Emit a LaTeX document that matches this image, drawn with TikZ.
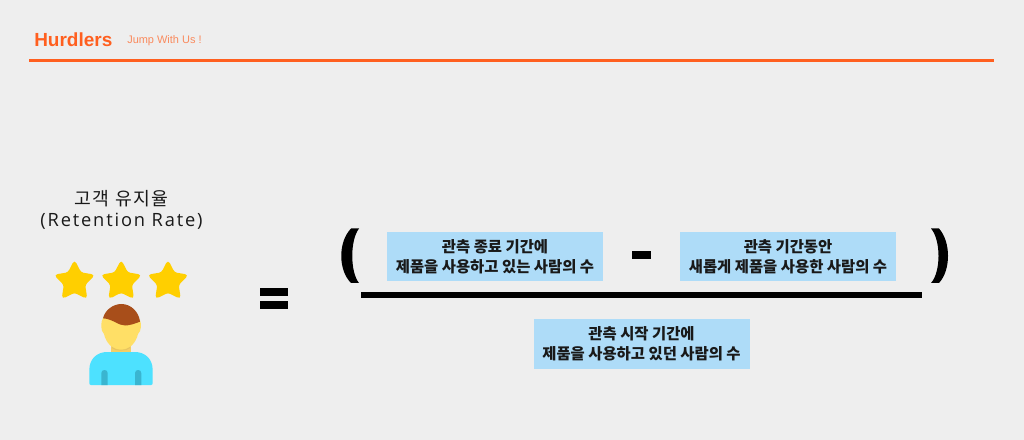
\documentclass[tikz,border=0pt]{standalone}
\usepackage{fontspec}
\usetikzlibrary{shapes,positioning,calc}
\setmainfont{Liberation Sans}
\newfontfamily\cjk{Noto Sans CJK KR}
\newfontfamily\cjktitle[LetterSpace=8]{Noto Sans CJK KR}
\newfontfamily\lattitle[LetterSpace=10]{Open Sans}
\definecolor{pagebg}{HTML}{EEEEEE}
\definecolor{brand}{HTML}{FF5F1F}
\definecolor{boxblue}{HTML}{AEDCF8}
\definecolor{gold}{HTML}{FFCF00}
\definecolor{skin}{HTML}{FFDF66}
\definecolor{neck}{HTML}{F5CF66}
\definecolor{hair}{HTML}{A84E1A}
\definecolor{shirt}{HTML}{4DE1FF}
\definecolor{strap}{HTML}{3AB5D0}
\tikzset{
  termbox/.style={fill=boxblue,minimum width=54mm,minimum height=12.3mm,inner sep=0pt,
    align=center,font=\cjk\fontsize{10.95}{14.5}\selectfont\bfseries,text=black!90},
  prize/.style={star,star points=5,star point ratio=1.95,fill=gold,draw=gold,line width=1pt,
    rounded corners=0.7mm,minimum size=10.2mm,inner sep=0pt},
  opbar/.style={fill=black,inner sep=0pt}
}

\begin{document}
\begin{tikzpicture}[x=0.25mm,y=-0.25mm]
  \fill[pagebg] (0,0) rectangle (1024,440);
  \useasboundingbox (0,0) rectangle (1024,440);
  % header
  \node[anchor=west,inner sep=0pt,text=brand,font=\fontsize{13.5}{15}\selectfont\bfseries] (brandname) at (34,40) {Hurdlers};
  \node[anchor=west,inner sep=0pt,text=brand!70!pagebg,font=\fontsize{7.8}{9}\selectfont] (motto) at (127,41) {Jump With Us !};
  \coordinate (ruleL) at (29,60.5);
  \coordinate (ruleR) at (994,60.5);
  \draw[brand,line width=1.5pt] (ruleL) -- (ruleR);
  % left side
  \node[align=center,text=black!90,inner sep=0pt] (ratename) at (121.5,209.5)
    {{\cjktitle\fontsize{13}{18}\selectfont 고객 유지율}\\[3pt]{\lattitle\fontsize{13}{18}\selectfont (Retention Rate)}};
  \node[prize] (star1) at (74.5,281.5) {};
  \node[prize] (star2) at (121.2,281.5) {};
  \node[prize] (star3) at (168,281.5) {};
  % person
  \fill[neck] (111,340) rectangle (131,353);
  \fill[shirt] (89.3,383) -- (89.3,370) .. controls (89.3,358) and (98,352) .. (107,352) -- (135,352)
    .. controls (144,352) and (152.7,358) .. (152.7,370) -- (152.7,383)
    .. controls (152.7,384.5) and (152,385) .. (151,385) -- (91,385) .. controls (90,385) and (89.3,384.5) .. (89.3,383) -- cycle;
  \fill[strap] (101.3,385) -- (101.3,373) .. controls (101.3,369) and (107.7,369) .. (107.7,373) -- (107.7,385) -- cycle;
  \fill[strap] (135,385) -- (135,373) .. controls (135,369) and (141.3,369) .. (141.3,373) -- (141.3,385) -- cycle;
  \fill[skin] (103,318) .. controls (100.5,322) and (100.5,331) .. (104,334)
    .. controls (106,343) and (113,350) .. (121,350)
    .. controls (129,350) and (136,343) .. (138,334)
    .. controls (141.5,331) and (141.5,324) .. (140,320) -- (121,305) -- cycle;
  \draw[neck!85!black,opacity=0.35,line width=0.8pt] (112,347.5) .. controls (116,351) and (126,351) .. (130,347.5);
  \fill[hair] (103,318.3) .. controls (105,310) and (113,304) .. (121.5,304)
    .. controls (131,304) and (139,312) .. (140,321.7)
    .. controls (135,323.5) and (130,325.5) .. (125,325.5)
    .. controls (118,325.5) and (113,319) .. (103,318.3) -- cycle;
  % equals sign
  \node[opbar,minimum width=7.1mm,minimum height=1.9mm] (eqtop) at (274,292) {};
  \node[opbar,minimum width=7.1mm,minimum height=1.9mm] (eqbot) at (274,305.3) {};
  % fraction
  \node[termbox] (endusers) at (495,256.5) {관측 종료 기간에\\제품을 사용하고 있는 사람의 수};
  \node[termbox] (newusers) at (788,256.5) {관측 기간동안\\새롭게 제품을 사용한 사람의 수};
  \node[termbox] (startusers) at (641.5,344) {관측 시작 기간에\\제품을 사용하고 있던 사람의 수};
  \node[opbar,minimum width=4.8mm,minimum height=2mm] (minus) at (641.5,255) {};
  \coordinate (barL) at (361,295.3);
  \coordinate (barR) at (922,295.3);
  \draw[line width=4pt] (barL) -- (barR);
  \fill (359,228.5) .. controls (350,240) and (350,272) .. (359,283) -- (351,283)
    .. controls (338,270) and (338,242) .. (351,228.5) -- cycle;
  \fill (931,228.5) .. controls (941,240) and (941,272) .. (931,283) -- (939,283)
    .. controls (951,270) and (951,242) .. (939,228.5) -- cycle;
\end{tikzpicture}
\end{document}
